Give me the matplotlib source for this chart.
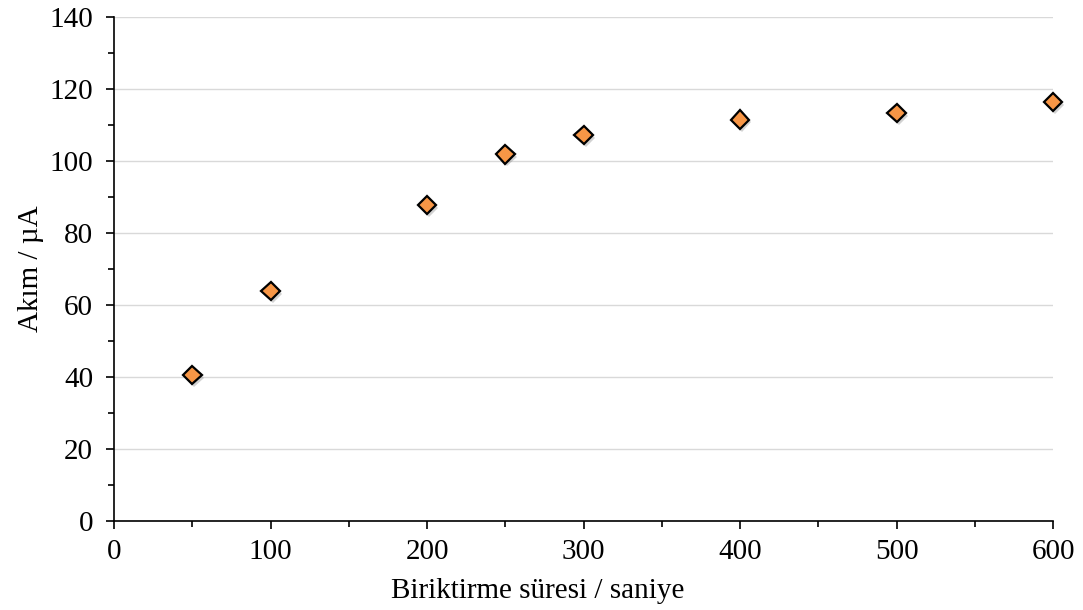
import matplotlib
matplotlib.use("Agg")
import matplotlib.pyplot as plt
import matplotlib.patheffects as pe
from matplotlib.ticker import MultipleLocator

# deposition time (s) vs current (uA)
sure = [50, 100, 200, 250, 300, 400, 500, 600]
akim = [40.6, 63.9, 87.8, 101.9, 107.2, 111.5, 113.3, 116.4]

plt.rcParams['font.family'] = ['Liberation Serif', 'DejaVu Serif']

fig = plt.figure(figsize=(10.83, 6.10), dpi=100)
ax = fig.add_axes([0.1053, 0.1459, 0.867, 0.8262])

ax.plot(sure, akim, linestyle='none', marker='D', markersize=9.5,
        markerfacecolor='#F79646', markeredgecolor='black', markeredgewidth=1.6,
        path_effects=[pe.SimplePatchShadow(offset=(1.5, -2), shadow_rgbFace='gray', alpha=0.35),
                      pe.Normal()],
        zorder=3, clip_on=False)

ax.set_xlim(0, 600)
ax.set_ylim(0, 140)
ax.xaxis.set_major_locator(MultipleLocator(100))
ax.xaxis.set_minor_locator(MultipleLocator(50))
ax.yaxis.set_major_locator(MultipleLocator(20))
ax.yaxis.set_minor_locator(MultipleLocator(10))

ax.grid(axis='y', which='major', color='#d9d9d9', linewidth=1)
ax.set_axisbelow(True)
for s in ['top', 'right']:
    ax.spines[s].set_visible(False)
for s in ['left', 'bottom']:
    ax.spines[s].set_linewidth(1.2)

ax.tick_params(which='major', direction='out', length=6, width=1.2, labelsize=21, pad=7)
ax.tick_params(axis='y', which='major', pad=9)
ax.tick_params(which='minor', direction='out', length=4, width=1.2)

ax.set_xlabel('Biriktirme süresi / saniye', fontsize=21, labelpad=9, x=0.4515)
ax.set_ylabel('Akım / µA', fontsize=21, labelpad=4)

fig.savefig('out.png', dpi=100)
